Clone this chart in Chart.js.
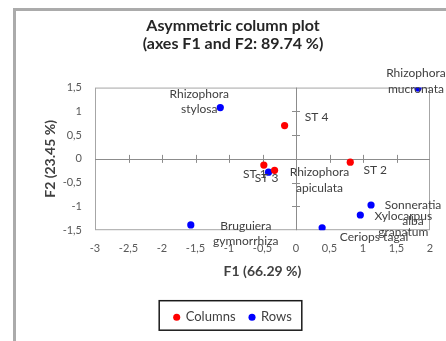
<!DOCTYPE html>
<html>
<head>
<meta charset="utf-8">
<title>Asymmetric column plot</title>
<script src="https://cdn.jsdelivr.net/npm/chart.js@4/dist/chart.umd.min.js"></script>
<style>
  html, body { margin: 0; padding: 0; background: #fff; overflow: hidden; }
  #frame { position: absolute; left: 13px; top: 8px; width: 520px; height: 420px;
           border-left: 3px solid #ababab; border-top: 3px solid #ababab; }
  #chart { position: absolute; left: 0; top: 0; }
</style>
</head>
<body>
<div id="frame"></div>
<canvas id="chart" width="446" height="341"></canvas>
<script>
// ---------------------------------------------------------------
// DATA
// ---------------------------------------------------------------

const rowNames = ['Rhizophora stylosa', 'Rhizophora mucronata', 'Rhizophora apiculata', 'Sonneratia alba',
  'Xylocarpus granatum', 'Ceriops tagal', 'Bruguiera gymnorrhiza'];
const rowF1 = [-1.13, 1.82, -0.41, 1.12, 0.96, 0.39, -1.57];
const rowF2 = [1.08, 1.49, -0.28, -0.97, -1.18, -1.45, -1.39];

const colNames = ['ST 1', 'ST 2', 'ST 3', 'ST 4'];
const colF1 = [-0.48, 0.81, -0.32, -0.17];
const colF2 = [-0.13, -0.07, -0.24, 0.70];

const xTicks = [-3, -2.5, -2, -1.5, -1, -0.5, 0, 0.5, 1, 1.5, 2];
const yTicks = [-1.5, -1, -0.5, 0, 0.5, 1, 1.5];

// label offsets from the point (px): [dx, dy, wrap onto two lines]
const labelPlacement = {
  'Rhizophora stylosa': [-21, -6, true],
  'Rhizophora mucronata': [-2, -7, true],
  'Rhizophora apiculata': [51, 8, true],
  'Sonneratia alba': [42, 8, true],
  'Xylocarpus granatum': [43, 9, true],
  'Ceriops tagal': [52, 9, false],
  'Bruguiera gymnorrhiza': [55, 8.5, true],
  'ST 1': [-9, 9, false],
  'ST 2': [25, 8, false],
  'ST 3': [-8, 8, false],
  'ST 4': [32, -8, false]
};

const FONT = 'Lato, "Open Sans", sans-serif';
const TEXT = '#404040';

const toPoints = (xs, ys) => xs.map((x, i) => ({ x, y: ys[i] }));
const commaFmt = (v) => String(v).replace('.', ',');

// ---------------------------------------------------------------
// PLUGINS
// ---------------------------------------------------------------

// plot frame + axes crossing at the origin with small cross ticks
const originAxes = {
  id: 'originAxes',
  beforeDatasetsDraw(chart) {
    const { ctx, chartArea: a, scales: { x, y } } = chart;
    const x0 = x.getPixelForValue(0);
    const y0 = y.getPixelForValue(0);
    ctx.save();
    ctx.strokeStyle = '#a6a6a6';
    ctx.lineWidth = 1;
    ctx.strokeRect(a.left + 0.5, a.top + 0.5, a.width - 1, a.height - 1);

    ctx.strokeStyle = '#8c8c8c';
    ctx.beginPath();
    ctx.moveTo(a.left, Math.round(y0) + 0.5);
    ctx.lineTo(a.right, Math.round(y0) + 0.5);
    ctx.moveTo(Math.round(x0) + 0.5, a.top);
    ctx.lineTo(Math.round(x0) + 0.5, a.bottom);
    xTicks.forEach((v) => {
      if (v === xTicks[0] || v === xTicks[xTicks.length - 1]) return;
      const px = Math.round(x.getPixelForValue(v)) + 0.5;
      ctx.moveTo(px, y0 - 4);
      ctx.lineTo(px, y0 + 4);
    });
    yTicks.forEach((v) => {
      if (v === yTicks[0] || v === yTicks[yTicks.length - 1]) return;
      const py = Math.round(y.getPixelForValue(v)) + 0.5;
      ctx.moveTo(x0 - 4, py);
      ctx.lineTo(x0 + 4, py);
    });
    ctx.stroke();
    ctx.restore();
  }
};

// point labels
const pointLabels = {
  id: 'pointLabels',
  afterDatasetsDraw(chart) {
    const { ctx } = chart;
    ctx.save();
    ctx.font = '12px ' + FONT;
    ctx.fillStyle = TEXT;
    ctx.textAlign = 'center';
    ctx.textBaseline = 'middle';
    chart.data.datasets.forEach((ds, di) => {
      const meta = chart.getDatasetMeta(di);
      ds.names.forEach((name, i) => {
        const pt = meta.data[i];
        const [dx, dy, wrap] = labelPlacement[name] || [0, -12, false];
        const cx = pt.x + dx;
        const cy = pt.y + dy;
        if (wrap) {
          const cut = name.indexOf(' ');
          ctx.fillText(name.slice(0, cut), cx, cy - 7.75);
          ctx.fillText(name.slice(cut + 1), cx, cy + 7.75);
        } else {
          ctx.fillText(name, cx, cy);
        }
      });
    });
    ctx.restore();
  }
};

// black box round the legend
const legendBox = {
  id: 'legendBox',
  afterDraw(chart) {
    const boxes = chart.legend && chart.legend.legendHitBoxes;
    if (!boxes || !boxes.length) return;
    const first = boxes[0];
    const last = boxes[boxes.length - 1];
    const left = first.left - 15;
    const right = last.left + last.width + 10;
    const top = first.top - 10;
    const bottom = first.top + 19.5;
    const { ctx } = chart;
    ctx.save();
    ctx.strokeStyle = '#1a1a1a';
    ctx.lineWidth = 1.5;
    ctx.strokeRect(left, top, right - left, bottom - top);
    ctx.restore();
  }
};

// ---------------------------------------------------------------
// CHART
// ---------------------------------------------------------------

new Chart(document.getElementById('chart'), {
  type: 'scatter',
  data: {
    datasets: [
      {
        label: 'Columns',
        names: colNames,
        data: toPoints(colF1, colF2),
        backgroundColor: '#ff0000',
        borderWidth: 0,
        pointRadius: 3.6
      },
      {
        label: 'Rows',
        names: rowNames,
        data: toPoints(rowF1, rowF2),
        backgroundColor: '#0000ff',
        borderWidth: 0,
        pointRadius: 3.6
      }
    ]
  },
  options: {
    responsive: false,
    animation: false,
    devicePixelRatio: 1,
    layout: { padding: { left: 36, right: 16, top: 10, bottom: 7.3 } },
    plugins: {
      title: {
        display: true,
        text: ['Asymmetric column plot', '(axes F1 and F2: 89.74 %)'],
        color: '#262626',
        font: { family: FONT, size: 16, weight: 'bold', lineHeight: 1.14 },
        padding: { top: 6.8, bottom: 34.3 }
      },
      legend: {
        position: 'bottom',
        labels: {
          usePointStyle: true,
          pointStyle: 'circle',
          boxWidth: 5,
          boxHeight: 5,
          padding: 14,
          color: TEXT,
          font: { family: FONT, size: 13 }
        }
      },
      tooltip: { enabled: false }
    },
    scales: {
      x: {
        type: 'linear',
        min: xTicks[0],
        max: xTicks[xTicks.length - 1],
        afterBuildTicks: (s) => { s.ticks = xTicks.map((value) => ({ value })); },
        afterFit: (s) => { s.height = 66.5; },
        grid: { display: false, drawTicks: false },
        border: { display: false },
        ticks: {
          autoSkip: false,
          maxRotation: 0,
          padding: 12,
          color: '#595959',
          font: { family: FONT, size: 11 },
          callback: commaFmt
        },
        title: {
          display: true,
          text: 'F1 (66.29 %)',
          color: TEXT,
          font: { family: FONT, size: 14, weight: 'bold' },
          padding: { top: 0, bottom: 17.3 }
        }
      },
      y: {
        type: 'linear',
        min: yTicks[0],
        max: yTicks[yTicks.length - 1],
        afterBuildTicks: (s) => { s.ticks = yTicks.map((value) => ({ value })); },
        afterFit: (s) => { s.width = 59; },
        grid: { display: false, drawTicks: false },
        border: { display: false },
        ticks: {
          padding: 13,
          color: '#595959',
          font: { family: FONT, size: 11 },
          callback: commaFmt
        },
        title: {
          display: true,
          text: 'F2 (23.45 %)',
          color: TEXT,
          font: { family: FONT, size: 14, weight: 'bold' },
          padding: { top: 5.6, bottom: 0 }
        }
      }
    }
  },
  plugins: [originAxes, pointLabels, legendBox]
});
</script>
</body>
</html>
